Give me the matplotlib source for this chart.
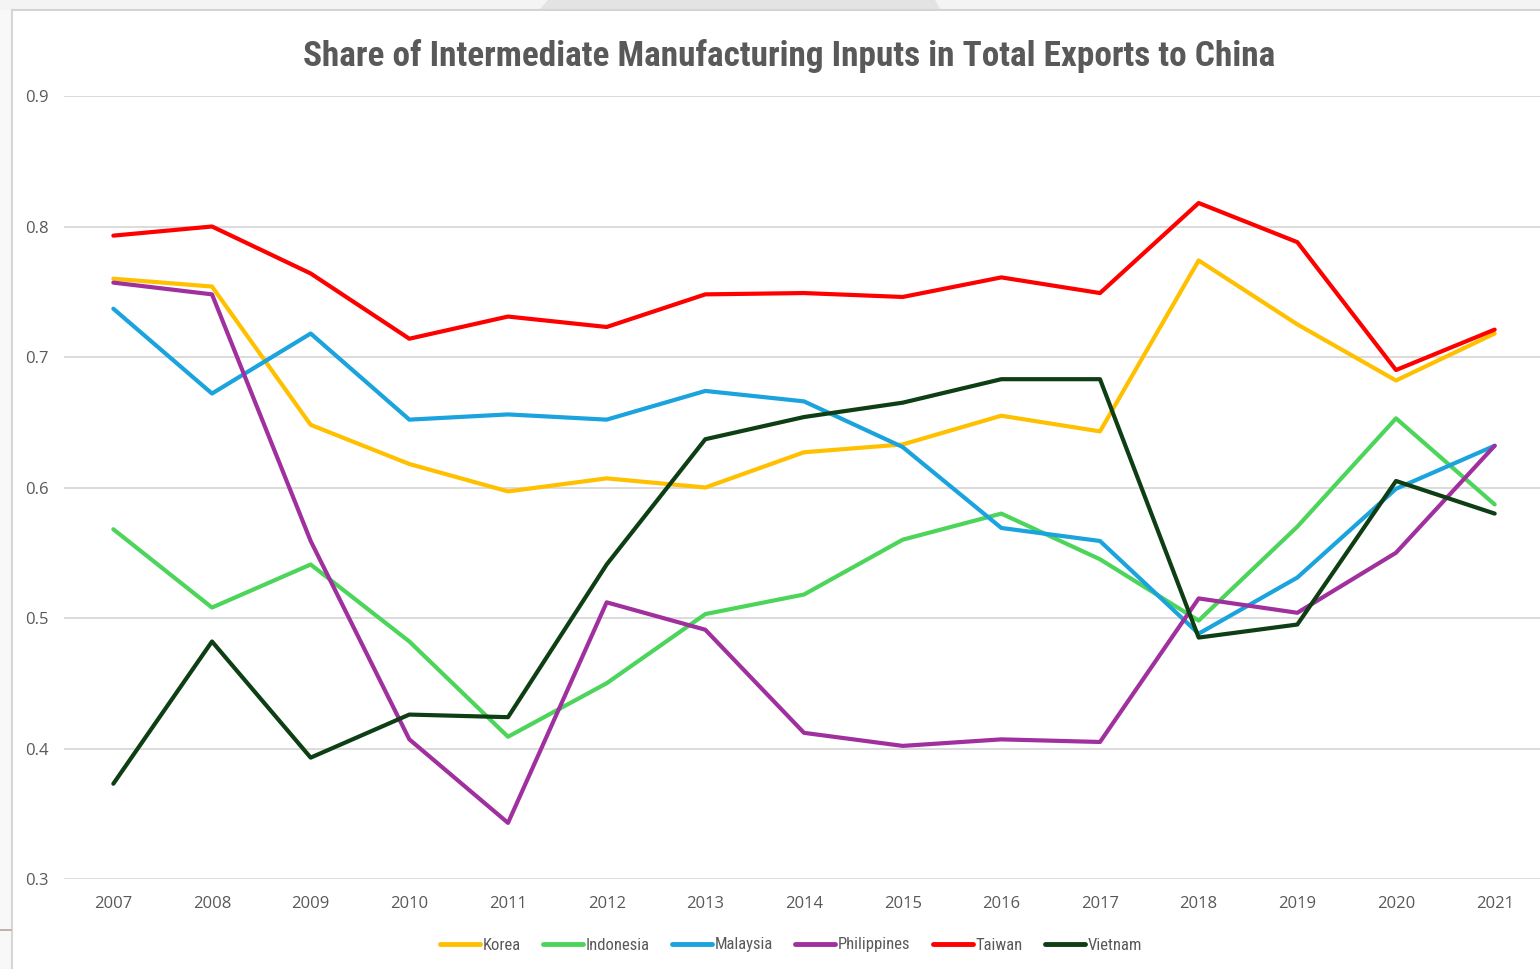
import matplotlib
matplotlib.use("Agg")
import matplotlib.pyplot as plt
from matplotlib.patches import Rectangle, Polygon
from matplotlib.lines import Line2D
from matplotlib import font_manager

years = [str(y) for y in range(2007, 2022)]

korea = [0.760, 0.754, 0.648, 0.618, 0.597, 0.607, 0.600, 0.627, 0.633, 0.655,
         0.643, 0.774, 0.725, 0.682, 0.718]
indonesia = [0.568, 0.508, 0.541, 0.482, 0.409, 0.450, 0.503, 0.518, 0.560, 0.580,
             0.545, 0.498, 0.570, 0.653, 0.587]
malaysia = [0.737, 0.672, 0.718, 0.652, 0.656, 0.652, 0.674, 0.666, 0.631, 0.569,
            0.559, 0.488, 0.531, 0.599, 0.632]
philippines = [0.757, 0.748, 0.559, 0.407, 0.343, 0.512, 0.491, 0.412, 0.402, 0.407,
               0.405, 0.515, 0.504, 0.550, 0.632]
taiwan = [0.793, 0.800, 0.764, 0.714, 0.731, 0.723, 0.748, 0.749, 0.746, 0.761,
          0.749, 0.818, 0.788, 0.690, 0.721]
vietnam = [0.373, 0.482, 0.393, 0.426, 0.424, 0.541, 0.637, 0.654, 0.665, 0.683,
           0.683, 0.485, 0.495, 0.605, 0.580]

series_names = ["Korea", "Indonesia", "Malaysia", "Philippines", "Taiwan", "Vietnam"]
series_values = [korea, indonesia, malaysia, philippines, taiwan, vietnam]
series_colors = ["#FFC000", "#4CD55A", "#1AA3DC", "#A0309E", "#FF0000", "#0E3E14"]

y_ticks = [0.3, 0.4, 0.5, 0.6, 0.7, 0.8, 0.9]
title = "Share of Intermediate Manufacturing Inputs in Total Exports to China"


def pick(*names):
    avail = {f.name for f in font_manager.fontManager.ttflist}
    for n in names:
        if n in avail:
            return n
    return "DejaVu Sans"


title_font = pick("Roboto Condensed", "Liberation Sans Narrow", "Liberation Sans")
body_font = pick("Open Sans", "Lato", "Liberation Sans")
narrow_font = pick("Roboto Condensed", "Liberation Sans Narrow", "Liberation Sans")

W, H = 1540, 969
fig = plt.figure(figsize=(W / 100, H / 100), dpi=100, facecolor="#f4f4f4")


def fx(px):
    return px / W


def fy(py):
    return 1 - py / H


# window chrome around the chart area (kept behind the axes)
chrome = [
    Polygon([(fx(540), fy(0)), (fx(935), fy(0)), (fx(940), fy(9)), (fx(540), fy(9)), (fx(548), fy(0))],
            closed=True, transform=fig.transFigure, facecolor="#e3e3e3", edgecolor="none"),
    Rectangle((0, 0), fx(12), fy(10), transform=fig.transFigure,
              facecolor="#f8f8f8", edgecolor="none"),
    Rectangle((fx(13), 0), 1, fy(11), transform=fig.transFigure,
              facecolor="white", edgecolor="none"),
]
for p in chrome:
    p.set_zorder(-10)
    fig.patches.append(p)
for xs, ys, c, w in [([fx(12.5), fx(12.5)], [0, fy(10)], "#d6d6d6", 1.5),
                     ([fx(12), 1], [fy(10), fy(10)], "#d4d4d4", 1.5),
                     ([0, fx(11)], [fy(929.5), fy(929.5)], "#b9a29e", 1.2)]:
    fig.lines.append(Line2D(xs, ys, transform=fig.transFigure, color=c, lw=w, zorder=-9))

# plot area: category axis with half-step padding
left_px, right_px = 64, 1544
top_px, bottom_px = 96, 879
ax = fig.add_axes([fx(left_px), fy(bottom_px), fx(right_px - left_px), (bottom_px - top_px) / H])
ax.set_facecolor("none")

x = list(range(len(years)))
for name, vals, col in zip(series_names, series_values, series_colors):
    ax.plot(x, vals, color=col, lw=3.0, label=name, solid_capstyle="round",
            solid_joinstyle="round", zorder=3)

ax.set_xlim(-0.5, len(years) - 0.5)
ax.set_ylim(0.3, 0.9)
ax.set_yticks(y_ticks)
ax.set_yticklabels([f"{v:.1f}" for v in y_ticks])
ax.set_xticks(x)
ax.set_xticklabels(years)
ax.grid(axis="y", color="#d9d9d9", lw=1.3, zorder=0)
ax.set_axisbelow(True)
for s in ax.spines.values():
    s.set_visible(False)
ax.tick_params(length=0, colors="#595959", labelsize=12)
ax.tick_params(axis="y", pad=11)
ax.tick_params(axis="x", pad=12)
for lbl in ax.get_xticklabels() + ax.get_yticklabels():
    lbl.set_fontfamily(body_font)
    lbl.set_color("#595959")

fig.text(fx(789), fy(56), title, ha="center", va="center", fontsize=25.4,
         fontweight="bold", color="#595959", family=title_font)

leg = fig.legend(loc="center", bbox_to_anchor=(fx(791), fy(945)), ncol=6, frameon=False,
                 handlelength=2.4, handletextpad=0.15, columnspacing=1.35,
                 prop={"family": narrow_font, "size": 12})
for t in leg.get_texts():
    t.set_color("#595959")
for h in leg.get_lines():
    h.set_linewidth(3.5)

fig.savefig("out.png", dpi=100, facecolor=fig.get_facecolor())
